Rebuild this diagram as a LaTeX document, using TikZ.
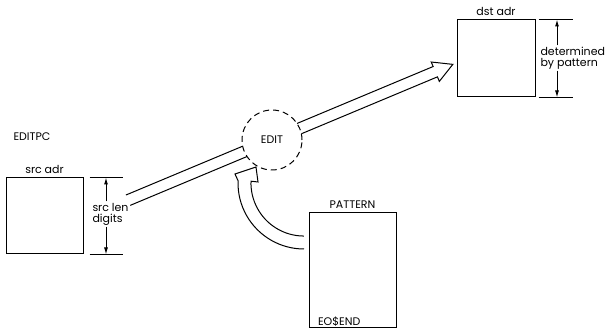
\documentclass[tikz,border=0pt]{standalone}
\usepackage{fontspec}
\setmainfont{Poppins}
\usetikzlibrary{positioning, arrows.meta}

\begin{document}
\begin{tikzpicture}[
    x=1pt, y=1pt,
    node distance=2pt,
    line width=1pt,
    box/.style={draw, rectangle, inner sep=0pt},
    lbl/.style={inner sep=1pt, font=\fontsize{11}{11}\selectfont, align=left},
    dimarrow/.style={-{Latex[length=7pt,width=4pt]}},
    hollow/.style={line join=miter}
  ]
    \useasboundingbox (0,0) rectangle (608,329);

    % strings
    \node (src) [box, minimum width=77pt, minimum height=76pt] at (44.5,113) {};
    \node (dst) [box, minimum width=78pt, minimum height=77pt] at (496,270.5) {};
    \node (pat) [box, minimum width=87pt, minimum height=115pt] at (352.5,58.5) {};
    \node (edit) [lbl, draw, dash pattern=on 6pt off 4pt, circle, minimum size=60pt, inner sep=0pt] at (272,189) {EDIT};

    \node (editpc) [lbl, anchor=west] at (12,192) {EDITPC};
    \node (srcadr) [lbl, above=of src] {src adr};
    \node (dstadr) [lbl, above=of dst] {dst adr};
    \node (patname) [lbl, above=of pat] {PATTERN};
    \node (eos) [lbl, anchor=south west] at ([xshift=8pt,yshift=1pt]pat.south west) {EO\$END};

    % length of source
    \draw ([xshift=6pt]src.north east) -- ([xshift=39pt]src.north east);
    \draw ([xshift=6pt]src.south east) -- ([xshift=39pt]src.south east);
    \node (srclen) [lbl, anchor=west] at (91,115) {src len\\digits};
    \coordinate (srcdim) at (106,0);
    \draw [dimarrow] (srcdim |- srclen.north) -- (srcdim |- src.north);
    \draw [dimarrow] (srcdim |- srclen.south) -- (srcdim |- src.south);

    % length of destination
    \draw ([xshift=3pt]dst.north east) -- ([xshift=37pt]dst.north east);
    \draw ([xshift=3pt]dst.south east) -- ([xshift=37pt]dst.south east);
    \node (dstlen) [lbl, anchor=west] at (539,271) {determined\\by pattern};
    \coordinate (dstdim) at (557,0);
    \draw [dimarrow] (dstdim |- dstlen.north) -- (dstdim |- dst.north);
    \draw [dimarrow] (dstdim |- dstlen.south) -- (dstdim |- dst.south);

    % source through EDIT to destination
    \begin{scope}[shift={(edit.center)}, rotate=22.7]
      \draw (-156,5.6) -- (-29.5,5.6);
      \draw (-156,-5.6) -- (-29.5,-5.6);
      \draw [hollow] (29.5,5.6) -- (177,5.6) -- (177,10.5) -- (196,0)
        -- (177,-10.5) -- (177,-5.6) -- (29.5,-5.6);
    \end{scope}

    % pattern into EDIT
    \draw [hollow] (304,80) arc[start angle=270, end angle=178, radius=66pt]
      -- (235,155) -- (256,162) -- (258,147) -- (251,147.8)
      arc[start angle=178, end angle=270, radius=53pt];
\end{tikzpicture}
\end{document}
